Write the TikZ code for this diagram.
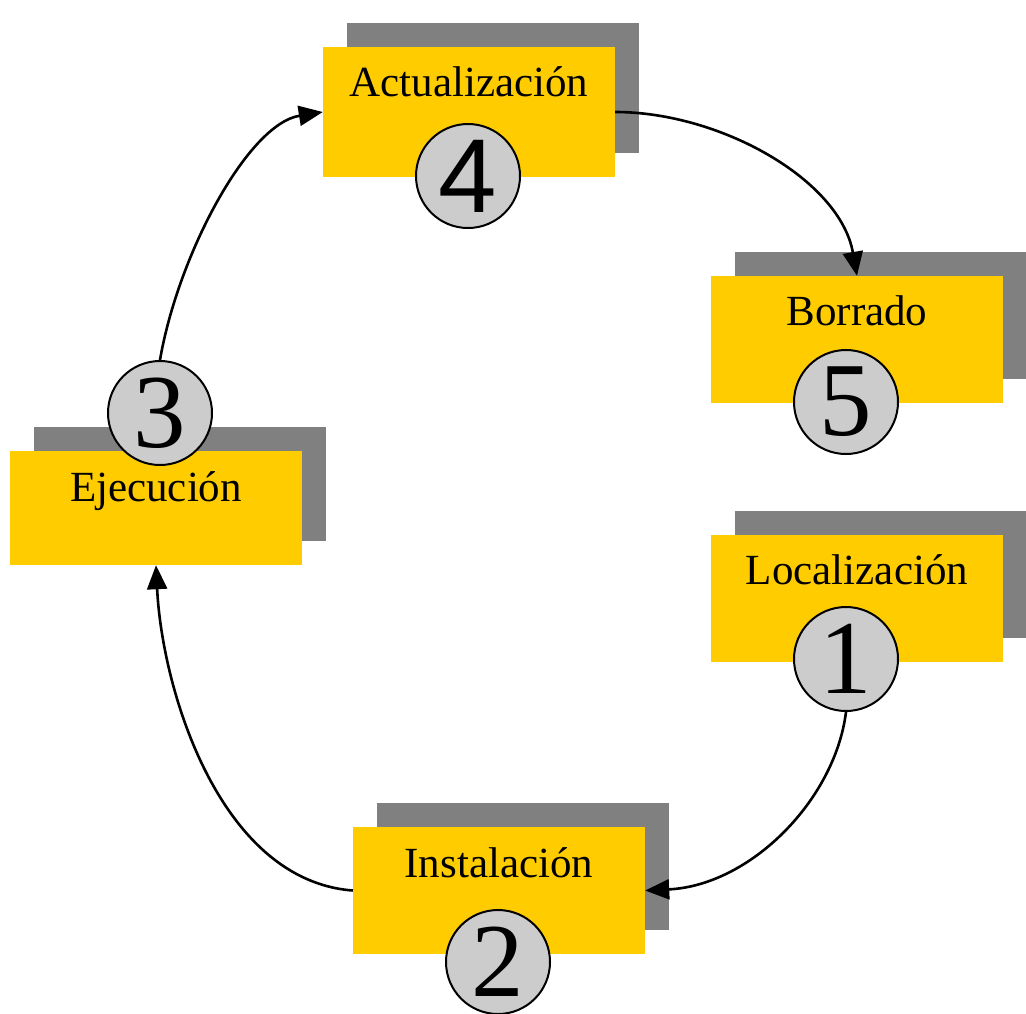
\documentclass[tikz,border=0pt]{standalone}
\usepackage{fontspec}
\setmainfont{Liberation Serif}
\newfontfamily\digitsans{Liberation Sans}
\usetikzlibrary{shadows,arrows.meta,calc}
\definecolor{cardyellow}{HTML}{FFCC00}
\definecolor{cardshadow}{HTML}{808080}
\definecolor{stepgray}{HTML}{CCCCCC}

\begin{document}
\begin{tikzpicture}[x=1pt,y=-1pt,
  card/.style={rectangle, fill=cardyellow, minimum width=292pt, inner sep=0pt,
    drop shadow={shadow xshift=24pt, shadow yshift=24pt, fill=cardshadow, opacity=1}},
  cardtext/.style={anchor=base, inner sep=0pt, font=\fontsize{43}{43}\selectfont},
  num/.style={circle, draw=black, line width=2pt, fill=stepgray, minimum size=104pt,
    inner sep=0pt, font=\fontsize{105}{105}\selectfont},
  flow/.style={line width=2.6pt, -{Triangle[length=24pt,width=20pt]}}
]
\fill[white] (0,0) rectangle (1026,1013);
\useasboundingbox (0,0) rectangle (1026,1013);

% cards with their shadows
\node[card, minimum height=130pt] (act) at (469,112) {};
\node[card, minimum height=127pt] (bor) at (857,339.5) {};
\node[card, minimum height=127pt] (loc) at (857,598.5) {};
\node[card, minimum height=127pt] (ins) at (499,890.5) {};
\node[card, minimum height=114pt] (eje) at (156,508) {};

% card titles
\node[cardtext] (actT) at ($(act.north)+(0,50)$) {Actualización};
\node[cardtext] (borT) at ($(bor.north)+(0,50)$) {Borrado};
\node[cardtext] (locT) at ($(loc.north)+(0,50)$) {Localización};
\node[cardtext] (insT) at ($(ins.north)+(0,51)$) {Instalación};
\node[cardtext] (ejeT) at ($(eje.north)+(0,51)$) {Ejecución};

% step numbers
\node[num] (c1) at (846,659) {\raisebox{-3pt}{1}};
\node[num] (c2) at (498,962) {\raisebox{-3pt}{2}};
\node[num] (c3) at (160,413) {\raisebox{-3pt}{3}};
\node[num] (c4) at (468,176) {\digitsans\raisebox{-3pt}{4}};
\node[num] (c5) at (846,402) {\raisebox{-3pt}{5}};

% cycle connectors
\draw[flow] (act.east) .. controls +(105,0) and +(-17,-96) .. (bor.north);
\draw[flow] (c1.south) .. controls +(-11,88) and +(105,-5) .. (ins.east);
\draw[flow] (ins.west) .. controls +(-133,-10) and +(6,125) .. (eje.south);
\draw[flow] (c3.north) .. controls +(18,-105) and +(-75,12) .. (act.west);
\end{tikzpicture}
\end{document}
